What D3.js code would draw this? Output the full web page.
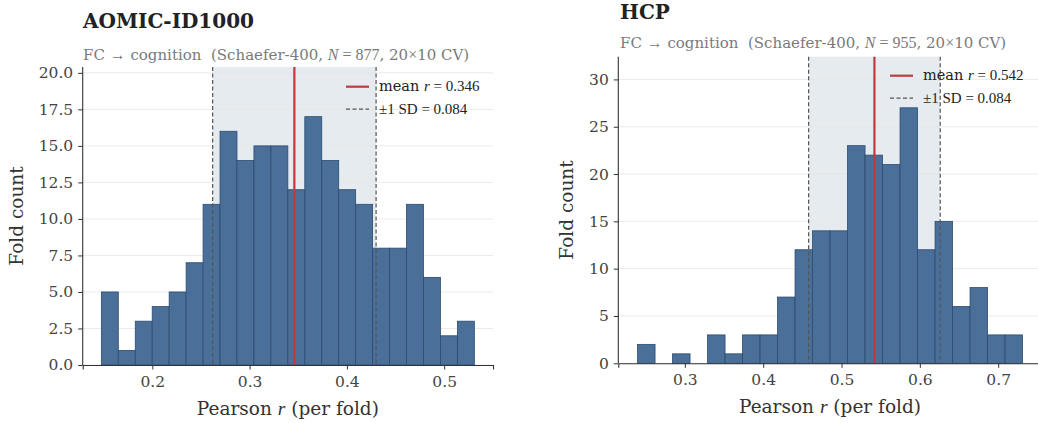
<!DOCTYPE html>
<html>
<head>
<meta charset="utf-8">
<script src="https://cdn.jsdelivr.net/npm/d3@7"></script>
<style>
  html, body { margin: 0; padding: 0; background: #fff; }
  svg { display: block; font-family: 'DejaVu Serif', serif; }
  text { white-space: pre; }
  .math { font-family: 'Liberation Serif', serif; }
</style>
</head>
<body>
<div id="chart"></div>
<script>
// per-fold pearson r histograms, 20x10 CV = 200 folds each
const aomicCounts = [5, 1, 3, 4, 5, 7, 11, 16, 14, 15, 15, 12, 17, 14, 12, 11, 8, 8, 11, 6, 2, 3];
const aomicRange = [0.1476, 0.531];
const aomicStats = { mean: 0.346, sd: 0.084, n: 877 };

const hcpCounts = [2, 0, 1, 0, 3, 1, 3, 3, 7, 12, 14, 14, 23, 22, 21, 27, 12, 15, 6, 8, 3, 3];
const hcpRange = [0.2396, 0.7311];
const hcpStats = { mean: 0.542, sd: 0.084, n: 955 };

const aomicYTicks = [0, 2.5, 5, 7.5, 10, 12.5, 15, 17.5, 20];
const hcpYTicks = [0, 5, 10, 15, 20, 25, 30];
const aomicXTicks = [0.2, 0.3, 0.4, 0.5];
const hcpXTicks = [0.3, 0.4, 0.5, 0.6, 0.7];

const W = 1038;
const H = 423;

const BAR = '#4a6f98';
const BAR_EDGE = '#2c4b70';
const MEAN_COL = '#c0393b';
const SHADE = '#e6ebf0';

const $svg = d3.select('#chart').append('svg')
  .attr('width', W).attr('height', H);

function panel(opt) {
  const { box, counts, range, stats, yTicks, xTicks, yFmt } = opt;
  const n = counts.length;
  const bw = (range[1] - range[0]) / n;
  const bins = counts.map((c, i) => ({ x0: range[0] + i * bw, x1: range[0] + (i + 1) * bw, c }));
  const span = range[1] - range[0];

  const x = d3.scaleLinear()
    .domain([range[0] - span * 0.05, range[1] + span * 0.05])
    .range([box.x0, box.x1]);
  const y = d3.scaleLinear()
    .domain([0, d3.max(counts) * 1.2])
    .range([box.y1, box.y0]);

  const $g = $svg.append('g');

  // sd band
  $g.append('rect')
    .attr('x', x(stats.mean - stats.sd))
    .attr('width', x(stats.mean + stats.sd) - x(stats.mean - stats.sd))
    .attr('y', box.y0)
    .attr('height', box.y1 - box.y0)
    .attr('fill', SHADE);

  // grid
  $g.append('g').selectAll('line')
    .data(yTicks)
    .join('line')
    .attr('x1', box.x0).attr('x2', box.x1)
    .attr('y1', d => y(d)).attr('y2', d => y(d))
    .attr('stroke', '#e6e6e6').attr('stroke-width', 0.8);

  // bars
  $g.append('g').selectAll('rect')
    .data(bins.filter(d => d.c > 0))
    .join('rect')
    .attr('x', d => x(d.x0))
    .attr('width', d => x(d.x1) - x(d.x0))
    .attr('y', d => y(d.c))
    .attr('height', d => y(0) - y(d.c))
    .attr('fill', BAR)
    .attr('stroke', BAR_EDGE)
    .attr('stroke-width', 0.8);

  // sd lines
  $g.append('g').selectAll('line')
    .data([stats.mean - stats.sd, stats.mean + stats.sd])
    .join('line')
    .attr('x1', d => x(d)).attr('x2', d => x(d))
    .attr('y1', box.y0).attr('y2', box.y1)
    .attr('stroke', '#555').attr('stroke-width', 1.2)
    .attr('stroke-dasharray', '4,2.5');

  // mean line
  $g.append('line')
    .attr('x1', x(stats.mean)).attr('x2', x(stats.mean))
    .attr('y1', box.y0).attr('y2', box.y1)
    .attr('stroke', MEAN_COL).attr('stroke-width', 2.2);

  // axes
  const $ya = $g.append('g')
    .attr('transform', `translate(${box.x0},0)`)
    .call(d3.axisLeft(y).tickValues(yTicks).tickFormat(yFmt).tickSizeOuter(0).tickSize(4.5).tickPadding(5));
  $ya.select('.domain').attr('d', `M0,${box.y0}V${box.y1}`);

  const $xa = $g.append('g')
    .attr('transform', `translate(0,${box.y1})`)
    .call(d3.axisBottom(x).tickValues(xTicks).tickFormat(d3.format('.1f')).tickSizeOuter(0).tickSize(4.5).tickPadding(6));

  [$ya, $xa].forEach($a => {
    $a.select('.domain').attr('stroke', '#333').attr('stroke-width', 1.1);
    $a.selectAll('.tick line').attr('stroke', '#333').attr('stroke-width', 1);
    $a.selectAll('.tick text')
      .attr('fill', '#444')
      .style('font-family', "'DejaVu Serif', serif")
      .style('font-size', '15.5px');
  });

  // axis labels
  $g.append('text')
    .attr('transform', `translate(${opt.yLabelX},${(box.y0 + box.y1) / 2}) rotate(-90)`)
    .attr('text-anchor', 'middle')
    .attr('fill', '#333')
    .style('font-size', '18.5px')
    .text('Fold count');

  const $xl = $g.append('text')
    .attr('x', (box.x0 + box.x1) / 2)
    .attr('y', opt.xLabelY)
    .attr('text-anchor', 'middle')
    .attr('fill', '#333')
    .style('font-size', '18.5px');
  $xl.append('tspan').text('Pearson ');
  $xl.append('tspan').attr('class', 'math').style('font-style', 'italic').style('font-size', '19.5px').text('r');
  $xl.append('tspan').text(' (per fold)');

  // titles
  $g.append('text')
    .attr('x', opt.titleX).attr('y', opt.titleY)
    .attr('fill', '#222')
    .style('font-weight', 'bold')
    .style('font-size', '20px')
    .text(opt.title);

  const $st = $g.append('text')
    .attr('x', opt.titleX).attr('y', opt.subY)
    .attr('fill', '#7a7a7a')
    .style('font-size', '15px');
  $st.append('tspan').text('FC ');
  $st.append('tspan').attr('class', 'math').style('font-size', '16px').text('\u2192');
  $st.append('tspan').text(' cognition  (Schaefer-400, ');
  $st.append('tspan').attr('class', 'math').style('font-style', 'italic').style('font-size', '16px').text('N');
  $st.append('tspan').attr('class', 'math').style('font-size', '16px').text(` = ${stats.n}`);
  $st.append('tspan').text(', 20');
  $st.append('tspan').attr('class', 'math').style('font-size', '16px').text('\u00d7');
  $st.append('tspan').text('10 CV)');

  // legend
  const lx = opt.legendX;
  const ly = opt.legendY;
  $g.append('line')
    .attr('x1', lx).attr('x2', lx + 23)
    .attr('y1', ly).attr('y2', ly)
    .attr('stroke', MEAN_COL).attr('stroke-width', 2.2);
  $g.append('line')
    .attr('x1', lx).attr('x2', lx + 23)
    .attr('y1', ly + 22.5).attr('y2', ly + 22.5)
    .attr('stroke', '#555').attr('stroke-width', 1.2)
    .attr('stroke-dasharray', '4,2.5');

  const $l1 = $g.append('text')
    .attr('x', lx + 33).attr('y', ly + 4.5)
    .attr('fill', '#222')
    .style('font-size', '14.5px');
  $l1.append('tspan').text('mean ');
  $l1.append('tspan').attr('class', 'math').style('font-style', 'italic').style('font-size', '15px').text('r');
  $l1.append('tspan').attr('class', 'math').style('font-size', '15px').text(` = ${stats.mean.toFixed(3)}`);

  $g.append('text')
    .attr('x', lx + 33).attr('y', ly + 27)
    .attr('class', 'math')
    .attr('fill', '#222')
    .style('font-size', '15px')
    .text(`\u00b11 SD = ${stats.sd.toFixed(3)}`);
}

panel({
  box: { x0: 82.7, x1: 493, y0: 67, y1: 365 },
  counts: aomicCounts,
  range: aomicRange,
  stats: aomicStats,
  yTicks: aomicYTicks,
  xTicks: aomicXTicks,
  yFmt: d3.format('.1f'),
  title: 'AOMIC-ID1000',
  titleX: 83, titleY: 28, subY: 60,
  yLabelX: 23, xLabelY: 415,
  legendX: 346, legendY: 86.7,
});

panel({
  box: { x0: 618.3, x1: 1041.8, y0: 56.7, y1: 363.3 },
  counts: hcpCounts,
  range: hcpRange,
  stats: hcpStats,
  yTicks: hcpYTicks,
  xTicks: hcpXTicks,
  yFmt: d3.format('d'),
  title: 'HCP',
  titleX: 620, titleY: 19, subY: 48,
  yLabelX: 573, xLabelY: 413,
  legendX: 890, legendY: 75.7,
});
</script>
</body>
</html>
